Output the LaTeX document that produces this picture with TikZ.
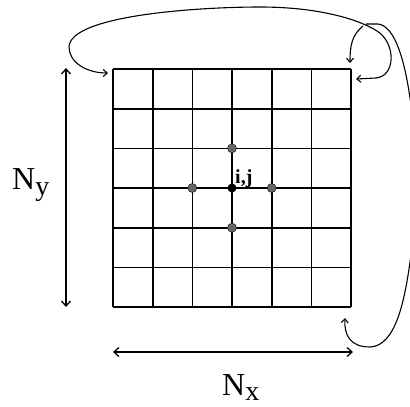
\documentclass[tikz,border=0pt]{standalone}
\usepackage{fontspec}
\setmainfont{Liberation Serif}
\usetikzlibrary{arrows.meta}
\begin{document}
\begin{tikzpicture}[x=1pt,y=-1pt,
  gridline/.style={line width=1.6pt},
  dimarrow/.style={line width=1.3pt,{Straight Barb[length=5pt,width=9pt]}-{Straight Barb[length=5pt,width=9pt]}},
  loopline/.style={line width=1.1pt},
  tip/.style={-{Straight Barb[length=4pt,width=7pt]}},
  nbdot/.style={circle,inner sep=0pt,minimum size=9pt,fill=black!60,draw=black!85,line width=0.6pt},
  ctrdot/.style={circle,inner sep=0pt,minimum size=9pt,fill=black},
  biglabel/.style={inner sep=0pt,font=\fontsize{32}{32}\selectfont}
]
\useasboundingbox (0,0) rectangle (410,407);
% grid
\foreach \x in {113,152.7,192.3,232,271.7,311.3,351} \draw[gridline] (\x,69) -- (\x,307);
\foreach \y in {69,108.7,148.3,188,227.7,267.3,307} \draw[gridline] (113,\y) -- (351,\y);
% stencil points
\node[ctrdot] (c) at (232,188) {};
\node[nbdot] (w) at (192.3,188) {};
\node[nbdot] (e) at (271.7,188) {};
\node[nbdot] (n) at (232,148.3) {};
\node[nbdot] (s) at (232,227.7) {};
\node[inner sep=0pt,anchor=base west,font=\fontsize{20}{20}\selectfont\bfseries] (ij) at (235,183) {i,j};
% dimension arrows
\coordinate (nyt) at (66,68);
\coordinate (nyb) at (66,307);
\draw[dimarrow] (nyt) -- (nyb);
\coordinate (nxl) at (113,352);
\coordinate (nxr) at (353,352);
\draw[dimarrow] (nxl) -- (nxr);
\node[biglabel,anchor=base west] (ny) at (12,189) {N\raisebox{-6pt}{\fontsize{28}{28}\selectfont y}};
\node[biglabel,anchor=base west] (nx) at (222,395) {N\raisebox{-5pt}{\fontsize{28}{28}\selectfont x}};
% periodic loops
\coordinate (la) at (108,73);
\coordinate (ra) at (356,79);
\draw[loopline,{Straight Barb[length=4pt,width=7pt]}-{Straight Barb[length=4pt,width=7pt]}]
  (la) .. controls (86,73) and (69,62) .. (69,47)
  .. controls (70,15) and (200,7) .. (260,7)
  .. controls (320,7) and (360,20) .. (377,31)
  .. controls (396,43) and (396,76) .. (376,78) -- (ra);
\coordinate (hs) at (363,26);
\coordinate (he) at (350,63);
\draw[loopline,tip] (hs) .. controls (352,35) and (350,45) .. (he);
\coordinate (rs) at (366,24);
\coordinate (re) at (411,105);
\draw[loopline] (rs) -- (378,24) .. controls (395,26) and (405,60) .. (re);
\coordinate (bs) at (411,255);
\coordinate (be) at (345,318);
\draw[loopline,tip] (bs) .. controls (405,300) and (396,346) .. (370,347)
  .. controls (350,347) and (344,335) .. (be);
\end{tikzpicture}
\end{document}
